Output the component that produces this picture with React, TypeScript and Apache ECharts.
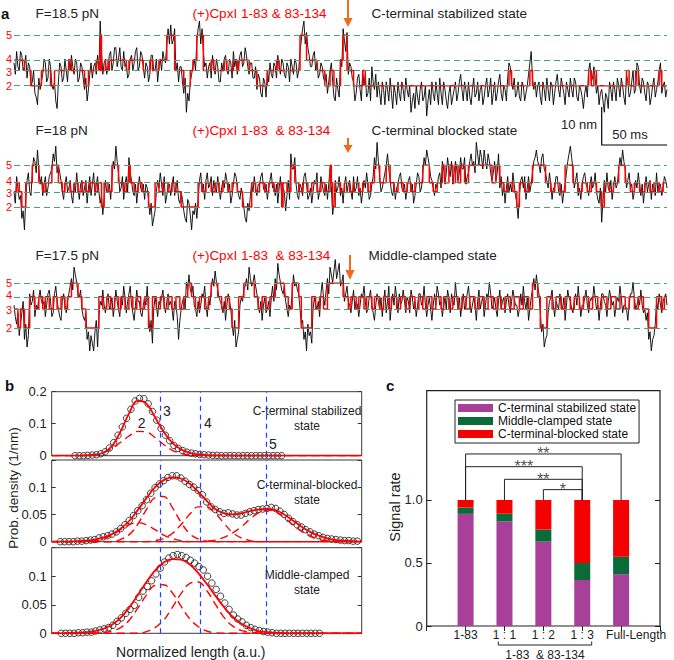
import React, { useEffect, useRef } from 'react';
import * as echarts from 'echarts';

const FONT = '"Liberation Sans", Arial, Helvetica, sans-serif';
const ORANGE = '#F26B1D';
const GREEN_DASH = '#47A07A';
const RED = '#FF0000';
const BLUE = '#1F3CFF';

// ---------------- Panel a : single-molecule traces ----------------
const TRACE_DURATION_MS = 500;
const TRACE_MS_PER_POINT = 1;
const TRACE_Y_MIN = -9;
const TRACE_Y_MAX = 19;
const STATES = [2, 3, 4, 5];
const LEVEL_NM_1 = [0, 4, 6.7, 13.3];
const LEVEL_NM_2 = [0, 4, 6.4, 11];
const LEVEL_NM_3 = [0, 5, 8.2, 11.8];
const TRACE_FORCE = ['F=18.5 pN', 'F=18 pN', 'F=17.5 pN'];
const TRACE_CPX = ['(+)CpxI 1-83 & 83-134', '(+)CpxI 1-83  & 83-134', '(+)CpxI 1-83  & 83-134'];
const TRACE_STATE = ['C-terminal stabilized state', 'C-terminal blocked state', 'Middle-clamped state'];

// [time ms, state] : state holds until the next entry
const STATE_SEQ_1 = [[0,4],[8,3],[13,2],[21,3],[28,2],[31,3],[42,4],[44,3],[54,2],[57,3],[63,4],[65,3],[66,5],[67,3],[70,4],[72,3],[73,4],[86,3],[88,4],[99,3],[104,4],[106,3],[111,4],[117,5],[123,3],[130,2],[135,3],[137,4],[140,5],[145,3],[151,4],[153,3],[161,4],[163,3],[168,4],[171,3],[172,4],[180,3],[186,2],[194,3],[201,4],[203,3],[219,5],[224,4],[232,3],[238,2],[242,3],[245,2],[250,4],[252,5],[255,3],[260,2],[267,3],[269,2],[379,3],[381,2],[395,3],[397,2],[440,3],[442,2],[444,3],[446,2],[469,3],[471,2],[476,3],[478,2],[494,3],[496,2],[500,2]];
const STATE_SEQ_2 = [[0,3],[2,4],[4,3],[6,2],[9,4],[14,5],[19,4],[22,3],[24,4],[29,5],[34,4],[37,3],[39,4],[43,3],[46,4],[49,3],[52,4],[55,3],[58,4],[62,3],[64,4],[67,2],[69,4],[72,3],[75,5],[80,4],[84,3],[86,4],[88,5],[89,4],[92,3],[95,4],[98,3],[103,2],[108,4],[111,3],[114,4],[118,3],[121,4],[124,3],[128,2],[141,4],[144,3],[147,4],[151,3],[154,4],[157,3],[160,4],[164,3],[167,4],[171,3],[175,2],[182,4],[185,3],[188,4],[192,3],[195,4],[199,3],[202,4],[205,2],[206,4],[209,3],[212,5],[215,4],[218,3],[221,4],[225,3],[228,4],[232,3],[235,4],[238,3],[242,5],[243,4],[244,2],[246,4],[250,3],[253,4],[257,3],[260,4],[264,3],[267,4],[271,3],[273,4],[276,5],[280,4],[285,5],[288,4],[291,3],[294,4],[298,3],[301,4],[304,3],[307,4],[313,5],[318,4],[321,3],[324,4],[328,5],[330,4],[333,5],[336,4],[338,5],[340,4],[342,5],[345,4],[348,5],[366,4],[369,5],[372,4],[375,3],[378,4],[382,3],[385,2],[387,4],[391,3],[394,4],[397,5],[407,4],[411,3],[414,4],[418,3],[422,5],[428,4],[432,3],[435,4],[439,3],[442,4],[446,3],[450,2],[452,4],[456,3],[459,4],[463,5],[468,4],[472,3],[475,4],[479,3],[483,4],[487,3],[490,4],[494,3],[497,4],[500,4]];
const STATE_SEQ_3 = [[0,3],[3,2],[5,3],[8,2],[12,4],[16,3],[19,4],[22,3],[24,4],[27,3],[30,4],[33,3],[36,4],[39,3],[41,4],[44,5],[49,4],[52,3],[55,2],[65,4],[68,3],[71,4],[74,3],[77,4],[80,3],[82,4],[85,3],[88,4],[91,3],[94,4],[97,3],[100,4],[103,2],[106,4],[109,3],[112,4],[115,3],[118,4],[121,3],[124,4],[127,3],[130,4],[133,5],[136,4],[139,3],[142,4],[146,3],[149,4],[151,5],[156,4],[159,3],[162,4],[165,3],[167,2],[172,4],[176,5],[184,4],[187,3],[190,4],[193,3],[196,4],[200,5],[207,4],[210,3],[213,5],[218,4],[220,2],[228,4],[231,3],[234,4],[237,3],[240,5],[252,4],[256,3],[258,4],[262,3],[264,4],[268,3],[270,4],[274,3],[276,4],[280,3],[283,4],[287,3],[289,4],[293,3],[296,4],[300,3],[303,4],[307,3],[310,4],[313,3],[316,4],[320,3],[323,4],[327,3],[329,4],[333,3],[336,4],[340,3],[343,4],[346,3],[349,4],[353,3],[356,4],[360,3],[363,4],[367,3],[370,4],[373,3],[376,4],[380,3],[383,4],[387,3],[390,4],[394,3],[397,5],[401,4],[403,2],[408,4],[412,3],[415,4],[419,3],[422,4],[426,3],[429,4],[433,3],[436,4],[440,3],[443,4],[447,3],[450,4],[454,3],[457,4],[461,3],[464,4],[468,3],[471,4],[475,3],[478,4],[482,3],[486,2],[492,4],[496,3],[498,4],[500,4]];

// raw extension (nm, relative to state 2), one value per ms, rows of 20 ms
const BLACK_1 = [
  6,3,9,5,4,9,8,4,5,8,2,6,5,0,1,4,-2,-3,-5,2,
  -1,1,3,7,6,1,2,7,5,0,-1,1,-4,-6,1,6,5,1,2,7,
  4,1,7,4,8,5,3,7,6,1,2,6,5,2,-1,2,-4,-1,3,6,
  2,5,6,3,8,4,17,9,3,6,7,3,5,8,9,4,6,10,10,5,
  7,10,5,4,9,5,6,2,3,7,8,4,6,9,10,4,5,9,8,5,
  2,6,5,1,3,8,8,4,4,7,1,5,7,4,9,7,6,11,15,11,
  16,11,12,15,4,6,1,5,5,1,-2,2,-7,-2,-4,1,3,5,7,4,
  12,15,17,11,15,9,5,6,2,5,6,2,8,5,3,7,5,1,1,6,
  4,7,8,4,3,7,6,2,9,5,7,3,5,8,9,5,6,10,8,5,
  3,6,6,2,2,5,-1,3,2,-2,-3,2,1,-3,4,1,6,3,2,6,
  5,2,8,5,3,7,6,3,2,6,5,1,7,5,3,7,6,2,4,9,
  12,15,17,11,14,10,8,5,5,8,9,4,6,2,3,6,5,2,1,3,
  -2,1,4,6,1,-3,-4,2,-1,-3,7,5,15,12,9,14,3,6,5,2,
  1,-4,-2,2,3,-1,-4,4,0,3,-3,-2,2,-4,5,1,-1,3,-3,1,
  -2,-5,1,-1,-5,1,-1,-4,2,-2,-6,0,-2,-5,1,-2,-4,1,-1,-4,
  2,-1,-3,0,-7,-4,-2,-6,0,-3,-5,-1,1,-4,-3,0,-8,-4,-1,-5,
  1,-2,-4,1,-2,-5,2,-2,-5,1,-1,-4,-6,-2,0,-5,-3,-1,1,-4,
  -2,1,3,-1,-4,1,-1,-4,1,-3,-5,-1,2,-3,-2,1,-4,-1,0,-5,
  -3,0,2,-3,-1,2,-5,-2,1,-4,-2,1,3,-2,-4,0,-1,-4,2,6,
  5,1,-1,2,-3,-2,1,-3,-4,1,0,-4,-2,0,3,6,9,2,-1,1,
  -3,0,1,-3,-5,1,-1,-4,2,-1,-4,1,0,-5,-2,1,3,-1,-3,2,
  0,-2,-5,1,-1,-3,2,-1,-3,2,1,-3,-4,0,-1,-3,-6,-2,0,-3,
  4,6,1,2,5,2,-2,0,-5,-2,-1,-4,-7,-2,-3,-6,1,-1,-4,1,
  -1,-4,2,0,-3,2,0,-3,-5,3,1,-3,-2,1,4,-2,-1,6,5,0,
  -2,2,1,-2,-4,1,0,-5,-3,0,2,-3,-1,1,4,6,-2,0,1,-3,
  -1];
const BLACK_2 = [
  4,1,8,5,2,3,-3,-1,-6,2,7,9,4,3,9,13,12,9,15,10,
  6,8,3,6,8,3,5,8,9,10,14,12,16,9,11,9,7,4,2,6,
  8,4,5,7,3,1,6,4,9,5,2,6,7,3,5,7,1,5,8,3,
  6,9,3,6,8,4,1,3,-2,2,7,4,4,6,2,7,12,10,16,12,
  9,4,5,8,2,6,8,4,13,9,7,4,3,6,1,5,8,5,4,6,
  2,6,5,2,-2,1,-5,-3,-1,4,7,5,9,6,3,8,1,3,6,6,
  3,6,8,3,5,7,2,1,4,2,-1,-3,-4,2,1,-2,-6,-1,-2,1,
  -3,2,7,9,4,6,2,7,9,5,6,8,3,7,5,4,8,5,2,5,
  7,5,9,7,4,6,1,3,6,9,8,5,3,2,5,3,0,-3,-4,1,
  -1,3,6,4,8,5,3,6,6,8,9,5,4,6,2,5,7,9,5,6,
  3,6,1,5,8,2,5,4,-1,3,7,2,14,10,10,13,6,3,2,6,
  5,3,8,9,6,2,3,5,1,4,7,6,9,2,4,8,6,4,3,6,
  2,6,10,5,-2,1,7,4,5,8,3,5,1,6,8,4,6,7,4,2,
  8,4,5,8,3,5,1,4,7,5,9,6,2,3,6,8,13,10,17,12,
  8,4,5,7,9,11,14,10,7,4,3,6,2,5,6,8,9,5,4,6,
  2,5,7,8,4,6,1,3,6,9,8,4,5,9,13,11,15,13,11,8,
  7,5,3,6,5,8,9,5,12,10,6,9,13,10,8,12,6,9,12,10,
  7,9,13,10,10,13,6,8,9,12,14,11,12,9,17,14,11,15,13,10,
  15,12,10,14,12,9,7,9,12,7,9,14,5,8,3,6,1,5,8,4,
  6,4,9,6,3,1,-3,3,7,8,5,8,2,5,8,4,6,9,12,13,
  15,12,11,9,13,14,10,9,7,5,9,6,2,5,5,8,8,4,3,6,
  1,4,6,9,12,14,16,13,10,5,7,9,3,5,2,6,8,9,6,5,
  3,6,8,5,6,9,4,2,1,5,-4,2,7,4,9,5,4,7,2,5,
  8,5,6,10,13,11,15,12,10,5,7,9,5,6,2,4,7,5,9,6,
  3,6,1,5,8,4,6,7,2,6,5,3,9,4,6,6,3,5,8,7,
  5];
const BLACK_3 = [
  6,3,1,4,-2,1,4,7,-3,1,-5,-2,9,6,7,10,3,6,5,8,
  10,7,6,7,3,6,9,10,7,3,4,9,11,7,5,3,2,7,9,6,
  4,7,9,11,13,10,16,14,12,9,8,10,5,3,2,4,-3,-1,-6,-2,
  -4,-6,-1,2,-5,3,7,6,10,6,4,7,9,5,6,8,3,6,10,7,
  5,3,8,6,11,8,4,7,9,11,6,4,2,6,10,7,7,4,3,6,
  8,6,11,4,-1,2,-4,5,8,6,3,7,6,8,10,6,4,7,9,6,
  7,5,2,7,6,3,-3,2,5,7,8,5,12,10,14,10,9,11,6,5,
  3,7,4,6,9,8,11,6,3,8,6,10,13,11,15,12,10,8,7,6,
  4,7,2,6,9,7,5,1,-2,2,-5,-3,-1,6,8,7,10,11,13,10,
  16,13,11,12,14,11,9,6,4,7,2,6,8,4,5,7,3,8,11,7,
  13,10,17,14,12,10,9,11,7,5,3,6,5,9,14,11,12,10,9,5,
  1,2,-3,-1,-6,1,-2,-1,-4,5,8,6,5,7,3,9,12,8,6,10,
  13,9,16,14,12,15,18,13,15,17,11,12,14,7,9,11,7,6,4,7,
  10,5,7,6,3,6,9,8,11,7,4,5,8,10,6,4,2,6,9,7,
  5,8,3,7,10,4,7,11,2,6,9,6,11,8,4,9,6,7,10,7,
  4,8,7,4,10,8,5,7,3,6,9,9,6,7,11,6,3,6,8,5,
  2,6,9,6,11,9,6,7,3,6,8,5,10,8,4,9,7,6,12,8,
  5,8,3,6,9,5,6,9,11,7,4,6,8,6,2,7,10,5,7,8,
  3,6,9,8,12,9,5,6,8,5,3,7,10,5,7,8,4,7,9,6,
  4,7,10,8,6,6,3,5,9,6,11,7,5,8,2,5,8,10,13,10,
  14,11,9,4,-1,1,-5,-3,-2,4,7,8,10,6,3,7,6,5,9,6,
  5,8,2,6,10,8,7,5,4,7,9,6,11,7,3,6,6,8,10,6,
  4,7,8,7,11,8,5,6,2,6,9,9,7,6,3,7,10,8,6,7,
  3,6,8,7,11,8,4,6,6,5,2,6,9,9,12,8,5,6,8,6,
  10,6,4,5,2,4,-3,-1,-6,-3,-2,1,7,5,9,6,4,7,8,9,
  6];

const SCALE_BAR_MS = [450, 450, 500];
const SCALE_BAR_NM = [-5.6, -15.6, -15.6];

// ---------------- Panel b : histograms ----------------
const B_X_MAX = 72;
const STATE_LINE_BINS = [25.2, 34.4, 49.8];
const FIT_BINS = [0,2,4,6,8,10,12,14,16,18,20,22,24,26,28,30,32,34,36,38,40,42,44,46,48,50,52,54,56,58,60,62,64,66,68,70,72];
const CIRC_START = [5.4, 2.0, 2.2];
const CIRC_1 = [0,0,0,0.001,0.002,0.003,0.006,0.012,0.024,0.041,0.064,0.09,0.117,0.145,0.171,0.179,0.178,0.162,0.138,0.111,0.085,0.064,0.047,0.032,0.023,0.016,0.011,0.008,0.006,0.004,0.003,0.002,0.001,0.001,0,0,0,0,0,0,0,0,0,0,0,0,0,0,0];
const CIRC_2 = [0,0,0,0,0.001,0.001,0.002,0.003,0.004,0.007,0.009,0.011,0.014,0.018,0.024,0.031,0.039,0.048,0.057,0.066,0.077,0.089,0.099,0.106,0.112,0.118,0.121,0.121,0.117,0.111,0.105,0.1,0.094,0.086,0.073,0.064,0.059,0.055,0.052,0.053,0.051,0.049,0.049,0.052,0.055,0.057,0.059,0.06,0.061,0.063,0.061,0.056,0.05,0.043,0.037,0.031,0.027,0.022,0.018,0.014,0.011,0.008,0.006,0.005,0.004,0.003,0.002,0.002,0.001,0.001];
const CIRC_3 = [0,0,0,0,0.001,0.001,0.002,0.002,0.004,0.006,0.008,0.01,0.014,0.021,0.027,0.035,0.042,0.049,0.063,0.074,0.082,0.092,0.104,0.114,0.125,0.132,0.136,0.138,0.136,0.133,0.128,0.123,0.117,0.111,0.1,0.088,0.077,0.065,0.053,0.042,0.032,0.025,0.02,0.014,0.01,0.007,0.005,0.003,0.002,0.001,0,0,0,0,0,0,0,0,0,0,0];
const FIT_1 = [0,0,0,0,0.001,0.003,0.009,0.03,0.076,0.133,0.172,0.163,0.12,0.075,0.04,0.02,0.009,0.004,0.002,0.001,0.001,0,0,0,0,0,0,0,0,0,0,0,0,0,0,0,0];
const COMP2_1 = [0,0,0,0,0.001,0.003,0.01,0.022,0.042,0.062,0.076,0.074,0.057,0.035,0.017,0.007,0.002,0,0,0,0,0,0,0,0,0,0,0,0,0,0,0,0,0,0,0,0];
const FIT_2 = [0,0,0,0.001,0.002,0.004,0.008,0.014,0.024,0.038,0.058,0.08,0.1,0.113,0.118,0.116,0.107,0.092,0.075,0.06,0.052,0.05,0.052,0.056,0.059,0.06,0.058,0.05,0.039,0.028,0.018,0.011,0.006,0.003,0.002,0.001,0];
const COMP2_2 = [0,0,0,0,0.001,0.002,0.006,0.012,0.022,0.031,0.035,0.031,0.022,0.012,0.006,0.002,0,0,0,0,0,0,0,0,0,0,0,0,0,0,0,0,0,0,0,0,0];
const COMP3_2 = [0,0,0,0,0,0,0,0,0.004,0.013,0.032,0.059,0.081,0.083,0.063,0.036,0.015,0.005,0.001,0,0,0,0,0,0,0,0,0,0,0,0,0,0,0,0,0,0];
const COMP4_2 = [0,0,0,0,0,0,0,0,0,0,0,0,0.002,0.006,0.015,0.031,0.05,0.064,0.064,0.052,0.034,0.017,0.007,0.002,0,0,0,0,0,0,0,0,0,0,0,0,0];
const COMP5_2 = [0,0,0,0,0,0,0,0,0,0,0,0,0,0,0,0,0,0,0.001,0.003,0.008,0.016,0.027,0.041,0.053,0.058,0.055,0.044,0.031,0.019,0.01,0.004,0.002,0.001,0,0,0];
const FIT_3 = [0,0,0,0.001,0.002,0.004,0.008,0.015,0.027,0.045,0.067,0.09,0.11,0.124,0.13,0.129,0.121,0.106,0.087,0.066,0.046,0.029,0.017,0.009,0.004,0.002,0.001,0,0,0,0,0,0,0,0,0,0];
const COMP3_3 = [0,0,0,0,0,0,0.001,0.004,0.01,0.023,0.044,0.067,0.084,0.085,0.071,0.048,0.026,0.012,0.004,0.001,0,0,0,0,0,0,0,0,0,0,0,0,0,0,0,0,0];
const COMP4_3 = [0,0,0,0,0,0,0,0,0,0,0,0.003,0.01,0.023,0.045,0.069,0.087,0.09,0.075,0.051,0.028,0.013,0.005,0.002,0,0,0,0,0,0,0,0,0,0,0,0,0];
const B_TICK_LABELS = [[0, 0.1, 0.2], [0, 0.05, 0.1], [0, 0.05, 0.1]];
const B_Y_MAX = [0.2, 0.15, 0.15];
const B_Y_INTERVAL = [0.1, 0.05, 0.05];
const B_PANEL_TEXT = [['C-terminal stabilized', 'state'], ['C-terminal-blocked', 'state'], ['Middle-clamped', 'state']];

// ---------------- Panel c : stacked bars ----------------
const C_CATEGORIES = ['1-83', '1 : 1', '1 : 2', '1 : 3', 'Full-Length'];
const C_STABILIZED = [0.89, 0.83, 0.67, 0.365, 0.41];
const C_MIDDLE = [0.05, 0.06, 0.095, 0.135, 0.14];
const C_BLOCKED = [0.06, 0.11, 0.235, 0.5, 0.45];
const C_Y_MAX = 1.867;
const C_Y_TICKS = [0, 0.5, 1];
const SIG_FROM = [1, 1, 2, 3];
const SIG_TO = [5, 4, 4, 4];
const SIG_Y = [1.365, 1.264, 1.164, 1.082];
const SIG_TEXT = ['**', '***', '**', '*'];
const SIG_BASE = 1.0;

function buildOption() {
  const grid: any[] = [];
  const xAxis: any[] = [];
  const yAxis: any[] = [];
  const series: any[] = [];

  // ---- panel a
  const traces = [
    { lv: LEVEL_NM_1, seq: STATE_SEQ_1, black: BLACK_1, top: 13.5 },
    { lv: LEVEL_NM_2, seq: STATE_SEQ_2, black: BLACK_2, top: 134.8 },
    { lv: LEVEL_NM_3, seq: STATE_SEQ_3, black: BLACK_3, top: 255.8 },
  ];
  const labelShift = (s: number) => (s === 4 ? [0, -1.4] : s === 3 ? [0, 1.4] : [0, 0]);
  traces.forEach((tr, i) => {
    grid.push({ left: 14, top: tr.top, width: 653, height: 106.4 });
    xAxis.push({ gridIndex: i, type: 'value', min: 0, max: TRACE_DURATION_MS, show: false });
    yAxis.push({ gridIndex: i, type: 'value', min: TRACE_Y_MIN, max: TRACE_Y_MAX, show: false });
    series.push({
      type: 'line', xAxisIndex: i, yAxisIndex: i, data: [[0, tr.lv[0]]], symbol: 'none',
      lineStyle: { opacity: 0 }, z: 1, silent: true,
      markLine: {
        silent: true, symbol: ['none', 'none'],
        lineStyle: { color: GREEN_DASH, type: [6, 4], width: 1 },
        label: { show: true, position: 'start', color: RED, fontSize: 11, lineHeight: 9, distance: 2, fontFamily: FONT },
        emphasis: { disabled: true },
        data: STATES.map((s) => ({ yAxis: tr.lv[s - 2], label: { formatter: String(s), offset: labelShift(s) } })),
      },
    });
    series.push({
      type: 'line', xAxisIndex: i, yAxisIndex: i, z: 2, symbol: 'none',
      data: tr.black.map((v, k) => [k * TRACE_MS_PER_POINT, v]),
      lineStyle: { color: '#000', width: 0.9 },
    });
    series.push({
      type: 'line', xAxisIndex: i, yAxisIndex: i, z: 3, symbol: 'none', step: 'end',
      data: tr.seq.map(([t, s]) => [t, tr.lv[s - 2]]),
      lineStyle: { color: RED, width: 1.5 },
    });
  });
  series.push({
    type: 'line', xAxisIndex: 0, yAxisIndex: 0, clip: false, symbol: 'none', z: 5,
    data: SCALE_BAR_MS.map((t, k) => [t, SCALE_BAR_NM[k]]),
    lineStyle: { color: '#000', width: 1.2 },
  });

  // ---- panel b
  const subs = [
    { top: 391.7, height: 64, circ: CIRC_1, fit: FIT_1, comps: [COMP2_1] },
    { top: 460, height: 81.7, circ: CIRC_2, fit: FIT_2, comps: [COMP2_2, COMP3_2, COMP4_2, COMP5_2] },
    { top: 547.7, height: 85.6, circ: CIRC_3, fit: FIT_3, comps: [COMP3_3, COMP4_3] },
  ];
  subs.forEach((sb, j) => {
    const gi = 3 + j;
    grid.push({ left: 51.7, width: 310, top: sb.top, height: sb.height, show: true, borderColor: '#3a3a3a', borderWidth: 1 });
    xAxis.push({ gridIndex: gi, type: 'value', min: 0, max: B_X_MAX, show: false });
    const labels = B_TICK_LABELS[j];
    yAxis.push({
      gridIndex: gi, type: 'value', min: 0, max: B_Y_MAX[j], interval: B_Y_INTERVAL[j], position: 'left',
      axisLine: { show: false }, splitLine: { show: false },
      axisTick: { show: true, inside: true, length: 4, lineStyle: { color: '#333' } },
      axisLabel: {
        fontSize: 13, color: '#222', margin: 5, fontFamily: FONT,
        formatter: (v: number) => { const m = labels.find((l) => Math.abs(l - v) < 1e-6); return m === undefined ? '' : String(m); },
      },
    });
  });
  subs.forEach((sb, j) => {
    yAxis.push({
      gridIndex: 3 + j, type: 'value', min: 0, max: B_Y_MAX[j], interval: B_Y_INTERVAL[j], position: 'right',
      axisLine: { show: false }, splitLine: { show: false }, axisLabel: { show: false },
      axisTick: { show: true, inside: true, length: 4, lineStyle: { color: '#333' } },
    });
  });
  subs.forEach((sb, j) => {
    const gi = 3 + j;
    series.push({
      type: 'line', xAxisIndex: gi, yAxisIndex: gi, data: [[0, 0]], symbol: 'none', lineStyle: { opacity: 0 }, z: 2, silent: true,
      markLine: {
        silent: true, symbol: ['none', 'none'], label: { show: false }, emphasis: { disabled: true },
        lineStyle: { color: BLUE, type: [5, 4], width: 1.2 },
        data: STATE_LINE_BINS.map((b) => ({ xAxis: b })),
      },
    });
    series.push({
      type: 'scatter', xAxisIndex: gi, yAxisIndex: gi, z: 3, symbol: 'circle', symbolSize: 6.5,
      data: sb.circ.map((v, k) => [CIRC_START[j] + k, v]),
      itemStyle: { color: 'rgba(255,255,255,0)', borderColor: '#111', borderWidth: 1 },
    });
    sb.comps.forEach((c) => {
      series.push({
        type: 'line', xAxisIndex: gi, yAxisIndex: gi, z: 4, symbol: 'none', smooth: 0.4,
        data: c.map((v, k) => [FIT_BINS[k], v]),
        lineStyle: { color: RED, width: 1.4, type: [8, 5] },
      });
    });
    series.push({
      type: 'line', xAxisIndex: gi, yAxisIndex: gi, z: 5, symbol: 'none', smooth: 0.4,
      data: sb.fit.map((v, k) => [FIT_BINS[k], v]),
      lineStyle: { color: RED, width: 1.8 },
    });
  });

  // ---- panel c
  grid.push({ left: 426.7, top: 390.7, width: 233.3, height: 235.3, show: true, borderColor: '#222', borderWidth: 1.2 });
  xAxis.push({
    gridIndex: 6, type: 'category', data: ['', ...C_CATEGORIES, ''], boundaryGap: false, position: 'bottom',
    axisLine: { show: false }, axisTick: { show: false }, splitLine: { show: false },
    axisLabel: {
      interval: 0, fontSize: 12, color: '#222', margin: 3, fontFamily: FONT,
      formatter: (v: string) => (v === 'Full-Length' ? '{fl|' + v + '}' : v),
      rich: { fl: { fontSize: 12, color: '#222', padding: [0, 0, 0, 30], fontFamily: FONT } },
    },
  });
  xAxis.push({
    gridIndex: 6, type: 'value', min: 0, max: C_CATEGORIES.length + 1, interval: 1, position: 'top',
    axisLine: { show: false }, splitLine: { show: false }, axisLabel: { show: false },
    axisTick: { show: true, inside: true, length: 5, lineStyle: { color: '#222' } },
  });
  yAxis.push({
    gridIndex: 6, type: 'value', min: 0, max: C_Y_MAX, interval: 0.5, position: 'left',
    axisLine: { show: false }, splitLine: { show: false },
    axisTick: { show: true, inside: true, length: 5, customValues: C_Y_TICKS, lineStyle: { color: '#222' } },
    axisLabel: {
      fontSize: 13, color: '#222', margin: 4, customValues: C_Y_TICKS, fontFamily: FONT,
      formatter: (v: number) => (v > 1.01 ? '' : v === 0 ? '0' : v.toFixed(1)),
    },
  });
  yAxis.push({
    gridIndex: 6, type: 'value', min: 0, max: C_Y_MAX, interval: 0.5, position: 'right',
    axisLine: { show: false }, splitLine: { show: false }, axisLabel: { show: false },
    axisTick: { show: true, inside: true, length: 5, customValues: C_Y_TICKS, lineStyle: { color: '#222' } },
  });
  const barSets = [
    { name: 'C-terminal stabilized state', data: C_STABILIZED, color: '#A8409A' },
    { name: 'Middle-clamped state', data: C_MIDDLE, color: '#0B6B38' },
    { name: 'C-terminal-blocked state', data: C_BLOCKED, color: '#F40000' },
  ];
  barSets.forEach((b) => {
    series.push({
      type: 'bar', name: b.name, xAxisIndex: 6, yAxisIndex: 9, stack: 'rate', barWidth: 16, z: 3,
      data: ['-', ...b.data, '-'], itemStyle: { color: b.color },
    });
  });
  SIG_FROM.forEach((f, k) => {
    series.push({
      type: 'line', xAxisIndex: 7, yAxisIndex: 9, z: 4, symbol: 'none', silent: true,
      data: [[f, SIG_BASE], [f, SIG_Y[k]], [SIG_TO[k], SIG_Y[k]], [SIG_TO[k], SIG_BASE]],
      lineStyle: { color: '#222', width: 1 },
    });
    series.push({
      type: 'scatter', xAxisIndex: 7, yAxisIndex: 9, z: 5, symbolSize: 1, silent: true,
      itemStyle: { color: 'rgba(0,0,0,0)' },
      data: [[(f + SIG_TO[k]) / 2, SIG_Y[k]]],
      label: { show: true, position: 'inside', formatter: SIG_TEXT[k], fontSize: 16, color: '#222', fontFamily: FONT },
    });
  });

  const txt = (x: number, y: number, text: string, extra: any = {}) => ({
    type: 'text', x, y, silent: true,
    style: { text, fill: '#222', fontSize: 13.5, fontFamily: FONT, align: 'left', verticalAlign: 'middle', ...extra },
  });
  const arrow = (x: number, y0: number, y1: number, headH: number) => ({
    type: 'group', silent: true,
    children: [
      { type: 'line', shape: { x1: x, y1: y0, x2: x, y2: y1 - headH + 1 }, style: { stroke: ORANGE, lineWidth: 2 } },
      { type: 'polygon', shape: { points: [[x - 4.6, y1 - headH], [x + 4.6, y1 - headH], [x, y1]] }, style: { fill: ORANGE } },
    ],
  });
  const titleY = [13.5, 130, 255.5];
  const graphic: any[] = [
    txt(1, 13, 'a', { fontSize: 15, fontWeight: 'bold', fill: '#111' }),
    txt(5, 385, 'b', { fontSize: 15, fontWeight: 'bold', fill: '#111' }),
    txt(386, 385, 'c', { fontSize: 15, fontWeight: 'bold', fill: '#111' }),
    arrow(348, 0, 27, 9),
    arrow(348, 138, 153, 8),
    arrow(350, 255, 280, 10),
    txt(579, 124, '10 nm', { align: 'center', fontSize: 13 }),
    txt(630, 134, '50 ms', { align: 'center', fontSize: 13 }),
    txt(141.7, 422.7, '2', { align: 'center', fontSize: 14 }),
    txt(167, 410.7, '3', { align: 'center', fontSize: 14 }),
    txt(208, 423, '4', { align: 'center', fontSize: 14 }),
    txt(273, 443.7, '5', { align: 'center', fontSize: 14 }),
    txt(190.8, 651.5, 'Normalized length (a.u.)', { align: 'center', fontSize: 14 }),
    { type: 'text', x: 13, y: 488, rotation: Math.PI / 2, silent: true,
      style: { text: 'Prob. density (1/nm)', fill: '#222', fontSize: 13.5, fontFamily: FONT, align: 'center', verticalAlign: 'middle' } },
    { type: 'text', x: 395, y: 507, rotation: Math.PI / 2, silent: true,
      style: { text: 'Signal rate', fill: '#222', fontSize: 14.5, fontFamily: FONT, align: 'center', verticalAlign: 'middle' } },
    { type: 'polyline', silent: true, shape: { points: [[498.3, 641.5], [498.3, 645], [591.7, 645], [591.7, 641.5]] }, style: { stroke: '#222', lineWidth: 1, fill: 'none' } },
    txt(545, 654.5, '1-83  & 83-134', { align: 'center', fontSize: 12 }),
  ];
  TRACE_FORCE.forEach((t, i) => {
    graphic.push(txt(35.5, titleY[i], t));
    graphic.push(txt(192.5, titleY[i], TRACE_CPX[i], { fill: RED }));
    graphic.push(txt(i === 2 ? 368.5 : 371.6, titleY[i], TRACE_STATE[i]));
  });
  const bTextY = [[410.7, 425.5], [485, 500], [575, 590]];
  B_PANEL_TEXT.forEach((lines, j) => {
    graphic.push(txt(307, bTextY[j][0], lines[0], { align: 'center', fontSize: 12 }));
    graphic.push(txt(307, bTextY[j][1], lines[1], { align: 'center', fontSize: 12 }));
  });

  return {
    animation: false,
    backgroundColor: '#fff',
    textStyle: { fontFamily: FONT },
    grid, xAxis, yAxis, series, graphic,
    legend: {
      data: barSets.map((b) => b.name), orient: 'vertical', left: 455, top: 400,
      itemWidth: 35, itemHeight: 8, itemGap: 1, icon: 'rect', selectedMode: false,
      borderColor: '#222', borderWidth: 1, padding: [2, 3, 3, 3],
      textStyle: { fontSize: 12, lineHeight: 12, color: '#111', fontFamily: FONT },
    },
  };
}

export default function App() {
  const ref = useRef<HTMLDivElement>(null);
  useEffect(() => {
    if (!ref.current) return;
    const chart = echarts.init(ref.current, null, { renderer: 'svg', width: 674, height: 660 });
    chart.setOption(buildOption() as any);
    return () => chart.dispose();
  }, []);
  return <div ref={ref} style={{ position: 'fixed', left: 0, top: 0, width: 674, height: 660, background: '#fff' }} />;
}
